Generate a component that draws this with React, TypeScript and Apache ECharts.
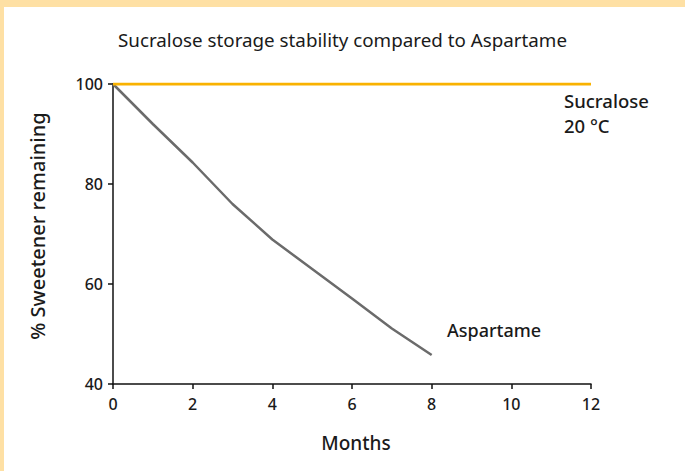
import React, { useEffect, useRef } from "react";
import * as echarts from "echarts";

const months = [0, 1, 2, 3, 4, 5, 6, 7, 8];
const aspartame = [100, 92, 84.3, 76, 68.9, 63, 57.1, 51.1, 45.8];
const sucraloseMonths = [0, 12];
const sucralose = [100, 100];
const xTicks = [0, 2, 4, 6, 8, 10, 12];
const yTicks = [40, 60, 80, 100];

const FONT = "Noto Sans";

export default function App() {
  const ref = useRef<HTMLDivElement>(null);
  useEffect(() => {
    if (!ref.current) return;
    const chart = echarts.init(ref.current, undefined, { renderer: "svg" });
    chart.setOption({
      animation: false,
      backgroundColor: "#ffffff",
      title: {
        text: "Sucralose storage stability compared to Aspartame",
        left: "center",
        top: 25,
        textStyle: { fontFamily: FONT, fontSize: 18.8, fontWeight: 400, color: "#1a1a1a" },
      },
      grid: { left: 113, right: 94, top: 84, bottom: 87 },
      xAxis: {
        type: "value",
        min: xTicks[0],
        max: xTicks[xTicks.length - 1],
        interval: 2,
        axisLine: { show: true, lineStyle: { color: "#111", width: 1.5 } },
        axisTick: { show: true, length: 5, lineStyle: { color: "#111", width: 1.5 } },
        axisLabel: { margin: 12, fontFamily: FONT, fontSize: 16, fontWeight: 500, color: "#1a1a1a" },
        splitLine: { show: false },
      },
      yAxis: {
        type: "value",
        min: yTicks[0],
        max: yTicks[yTicks.length - 1],
        interval: 20,
        axisLine: { show: true, lineStyle: { color: "#111", width: 1.5 } },
        axisTick: { show: true, length: 5, lineStyle: { color: "#111", width: 1.5 } },
        axisLabel: { margin: 10, fontFamily: FONT, fontSize: 16, fontWeight: 500, color: "#1a1a1a" },
        splitLine: { show: false },
      },
      series: [
        {
          type: "line",
          name: "Sucralose",
          data: sucraloseMonths.map((m, i) => [m, sucralose[i]]),
          showSymbol: false,
          lineStyle: { color: "#F9B200", width: 3 },
          z: 3,
        },
        {
          type: "line",
          name: "Aspartame",
          data: months.map((m, i) => [m, aspartame[i]]),
          showSymbol: false,
          lineStyle: { color: "#6b6b6b", width: 2.5 },
          z: 2,
        },
      ],
      graphic: [
        { type: "rect", left: 0, top: 0, shape: { width: 685, height: 7 }, style: { fill: "#FEE0A4" }, silent: true },
        { type: "rect", left: 0, top: 0, shape: { width: 4, height: 471 }, style: { fill: "#FEE0A4" }, silent: true },
        {
          type: "text",
          x: 37,
          y: 226,
          rotation: Math.PI / 2,
          style: {
            text: "% Sweetener remaining",
            fontFamily: FONT,
            fontSize: 20,
            fontWeight: 500,
            fill: "#1a1a1a",
            align: "center",
            verticalAlign: "middle",
          },
        },
        {
          type: "text",
          x: 356,
          y: 443,
          style: {
            text: "Months",
            fontFamily: FONT,
            fontSize: 19,
            fontWeight: 500,
            fill: "#1a1a1a",
            align: "center",
            verticalAlign: "middle",
          },
        },
        {
          type: "text",
          x: 447,
          y: 330,
          style: {
            text: "Aspartame",
            fontFamily: FONT,
            fontSize: 18,
            fontWeight: 500,
            fill: "#1a1a1a",
            align: "left",
            verticalAlign: "middle",
          },
        },
        {
          type: "text",
          x: 564,
          y: 88,
          style: {
            text: "Sucralose\n20 °C",
            fontFamily: FONT,
            fontSize: 18.5,
            fontWeight: 500,
            lineHeight: 25,
            fill: "#1a1a1a",
            align: "left",
            verticalAlign: "top",
          },
        },
      ],
    });
    return () => chart.dispose();
  }, []);
  return (
    <div
      ref={ref}
      style={{ position: "fixed", left: 0, top: 0, width: 685, height: 471 }}
    />
  );
}
